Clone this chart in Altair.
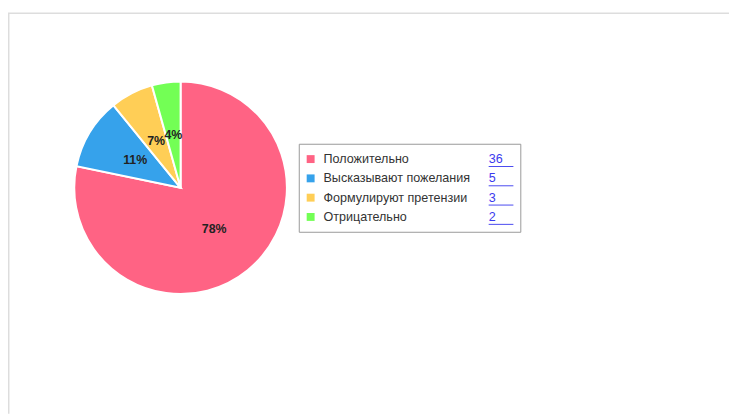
import altair as alt
import pandas as pd

categories = ["Положительно", "Высказывают пожелания", "Формулируют претензии", "Отрицательно"]
counts = [36, 5, 3, 2]
colors = ["#FF6384", "#36A2EB", "#FFCE56", "#73FF55"]
order_idx = [0, 1, 2, 3]

df = pd.DataFrame({"cat": categories, "count": counts, "idx": order_idx})
one = pd.DataFrame({"k": [0]})

W, H = 729, 408
CX, CY, R = 174.5, 179.5, 107.5
FONT = "Liberation Sans"

color_scale = alt.Scale(domain=categories, range=colors)

base = alt.Chart(df).transform_joinaggregate(
    total="sum(count)"
).transform_calculate(
    pct="format(round(100 * datum.count / datum.total), 'd') + '%'"
)

arcs = base.mark_arc(radius=R, stroke="white", strokeWidth=2).encode(
    theta=alt.Theta("count:Q", stack=True),
    order=alt.Order("idx:Q"),
    color=alt.Color("cat:N", scale=color_scale, legend=None),
    x=alt.value(CX),
    y=alt.value(CY),
)

labels = base.mark_text(
    radius=R / 2, font=FONT, fontSize=12.5, fontWeight="bold", color="#222",
    align="center", baseline="middle",
).encode(
    theta=alt.Theta("count:Q", stack=True),
    order=alt.Order("idx:Q"),
    detail="cat:N",
    text="pct:N",
    x=alt.value(CX),
    y=alt.value(CY),
)

yrow = alt.Y("cat:N", scale=alt.Scale(type="point", domain=categories,
                                       range=[150.5, 209], padding=0), axis=None)

legend_box = alt.Chart(one).mark_rect(fill="white", stroke="#999", strokeWidth=1).encode(
    x=alt.value(294.5), x2=alt.value(518.5), y=alt.value(135.5), y2=alt.value(224.5)
)

leg_sq = alt.Chart(df).mark_square(size=64, opacity=1).encode(
    x=alt.value(306), y=yrow,
    color=alt.Color("cat:N", scale=color_scale, legend=None),
)

leg_txt = alt.Chart(df).mark_text(
    align="left", baseline="middle", font=FONT, fontSize=12.7, color="#333"
).encode(x=alt.value(319), y=yrow, text="cat:N")

leg_num = alt.Chart(df).mark_text(
    align="left", baseline="middle", font=FONT, fontSize=12.7, color="#3b3bee"
).encode(x=alt.value(486), y=yrow, text="count:Q")

leg_ul = alt.Chart(df).mark_rule(color="#4a4af0", strokeWidth=1, yOffset=7.5).encode(
    x=alt.value(486), x2=alt.value(511), y=yrow
)

top_border = alt.Chart(one).mark_rule(color="#ddd", strokeWidth=1.5).encode(
    x=alt.value(0), x2=alt.value(W), y=alt.value(3)
)
left_border = alt.Chart(one).mark_rule(color="#ddd", strokeWidth=1.5).encode(
    x=alt.value(0.75), y=alt.value(3), y2=alt.value(H)
)

chart = alt.layer(
    top_border, left_border, arcs, labels, legend_box, leg_sq, leg_txt, leg_num, leg_ul
).properties(
    width=W, height=H, padding=0, autosize=alt.AutoSizeParams(type="none"),
    background="white",
).configure_view(stroke=None)

chart.save("out.html", embed_options={"renderer": "svg", "actions": False})
